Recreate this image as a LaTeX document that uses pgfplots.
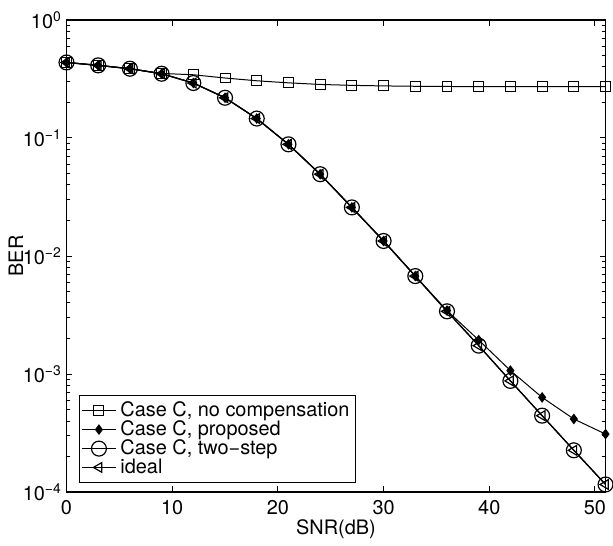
\documentclass[border=0pt]{standalone}
\usepackage{fontspec}
\setmainfont{TeX Gyre Heros}
\usepackage{pgfplots}
\pgfplotsset{compat=1.18}
\pgfplotstableread{
x nocomp proposed twostep ideal
0  0.436 0.436 0.436 0.436
3  0.412 0.412 0.412 0.412
6  0.386 0.386 0.386 0.386
9  0.352 0.350 0.350 0.350
12 0.343 0.292 0.292 0.292
15 0.322 0.219 0.219 0.219
18 0.305 0.146 0.146 0.146
21 0.293 0.0883 0.0883 0.0883
24 0.284 0.0493 0.0493 0.0493
27 0.279 0.0258 0.0258 0.0258
30 0.276 0.0134 0.0134 0.0134
33 0.274 0.00676 0.00676 0.00676
36 0.273 0.00345 0.0034 0.0034
39 0.272 0.00194 0.00174 0.00174
42 0.272 0.00107 0.000875 0.000875
45 0.272 0.000634 0.000444 0.000444
48 0.272 0.000416 0.000226 0.000226
51 0.272 0.00031 0.000116 0.000116
}\datatable
\begin{document}
\begin{tikzpicture}[font=\fontsize{10bp}{12bp}\selectfont]
\begin{axis}[
  scale only axis, width=270.8bp, height=237.2bp,
  xmin=0, xmax=51, ymode=log, ymin=1e-4, ymax=1,
  xtick={0,10,20,30,40,50},
  xticklabels={0,10,20,30,40,50},
  ytick={1e-4,1e-3,1e-2,1e-1,1},
  yticklabels={10\textsuperscript{−4},10\textsuperscript{−3},10\textsuperscript{−2},10\textsuperscript{−1},10\textsuperscript{0}},
  xticklabel style={yshift=-0.5bp},
  yticklabel style={xshift=1.2bp},
  axis line style={line width=0.6bp},
  every tick/.style={black, line width=0.5bp},
  major tick length=3bp, minor tick length=1.7bp,
  xlabel={SNR(dB)}, ylabel={BER},
  xlabel style={at={(axis description cs:0.5,-0.079)}, anchor=center},
  ylabel style={at={(axis description cs:-0.0938,0.5)}, anchor=center},
  legend style={at={(axis description cs:0.0229,0.0198)}, anchor=south west,
    draw=black, line width=0.6bp, fill=white, font=\fontsize{10bp}{12bp}\selectfont,
    inner sep=1bp, row sep=-3.4bp},
  legend cell align=left,
]
\addplot[black, line width=0.5bp, mark=square, mark size=2.5bp] table[x=x,y=nocomp]{\datatable};
\addlegendentry{Case C, no compensation}
\addplot[black, line width=0.5bp, mark=diamond*, mark size=2.3bp] table[x=x,y=proposed]{\datatable};
\addlegendentry{Case C, proposed}
\addplot[black, line width=0.6bp, mark=o, mark size=3.75bp] table[x=x,y=twostep]{\datatable};
\addlegendentry{Case C, two−step}
\addplot[black, line width=0.6bp, mark=triangle, mark size=2.8bp, mark options={rotate=90}] table[x=x,y=ideal]{\datatable};
\addlegendentry{ideal}
\end{axis}
\path ([xshift=-33.4bp,yshift=-22bp]current axis.south west) rectangle ([xshift=2.4bp,yshift=10bp]current axis.north east);
\end{tikzpicture}
\end{document}
